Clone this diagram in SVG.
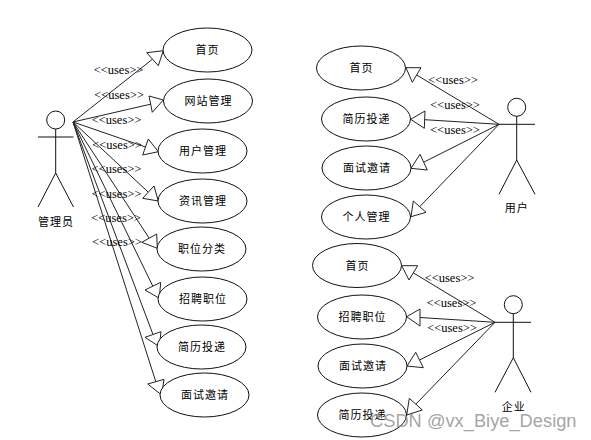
<svg xmlns="http://www.w3.org/2000/svg" width="591" height="440" viewBox="0 0 591 440">
<style>
  .s { fill: none; stroke: #111; stroke-width: 1; }
  ellipse { fill: #fff; stroke: #111; stroke-width: 1; }
  polygon { fill: #fff; stroke: #222; stroke-width: 1; }
  #connectors line { stroke: #222; stroke-width: 1; }
  text { fill: #000; }
  .n { font-family: "Noto Sans CJK SC", "Noto Sans", sans-serif; font-size: 11px; letter-spacing: 1px; text-anchor: middle; }
  .u { font-family: "Liberation Serif", serif; font-size: 12.500px; text-anchor: middle; }
  .w { font-family: "Liberation Sans", sans-serif; font-size: 18.300px; fill: #8c8c8c; fill-opacity: .8; }
</style>
<rect width="591" height="440" fill="#fff"/>

<g id="connectors">
  <line x1="73" y1="122" x2="152.5" y2="59.2"/><polygon points="163.3,50.7 146.7,52.7 158.3,65.7"/>
  <line x1="73" y1="122" x2="150.6" y2="104.2"/><polygon points="163.3,100 149,96 152.3,112.3"/>
  <line x1="73" y1="122" x2="145.5" y2="147"/><polygon points="158.3,151.7 148.3,139 142.7,155"/>
  <line x1="73" y1="122" x2="148.3" y2="192.2"/><polygon points="158.3,201 154,186 142.7,198.3"/>
  <line x1="73" y1="122" x2="149.2" y2="238.2"/><polygon points="157.3,248.3 156.7,234 141.7,242.3"/>
  <line x1="73" y1="122" x2="152.8" y2="286.2"/><polygon points="159.3,298.3 160.7,282.3 145,290"/>
  <line x1="73" y1="122" x2="153" y2="334.5"/><polygon points="159.3,346.7 161,331.7 145,337.3"/>
  <line x1="73" y1="122" x2="155.8" y2="381.7"/><polygon points="161.7,395 164,379.3 147.7,384"/>

  <line x1="499" y1="124.3" x2="416.7" y2="75"/><polygon points="406,67.7 421,67.7 412.3,82.3"/>
  <line x1="499" y1="124.3" x2="424.7" y2="119.7"/><polygon points="410.7,119.3 425,111 424.3,128.3"/>
  <line x1="499" y1="124.3" x2="423.7" y2="162.2"/><polygon points="411,168.3 420,154.3 427.3,170"/>
  <line x1="499" y1="124.3" x2="419.7" y2="206.7"/><polygon points="411,216.7 426,212.3 413.3,201"/>

  <line x1="495" y1="322.3" x2="413.4" y2="272.9"/><polygon points="401.7,265.7 417.7,265.7 409,280"/>
  <line x1="495" y1="322.3" x2="420" y2="317.5"/><polygon points="406.7,316.7 420,309 420,326"/>
  <line x1="495" y1="322.3" x2="419.5" y2="360"/><polygon points="407,366 415.7,352.3 423.3,367.7"/>
  <line x1="495" y1="322.3" x2="415.8" y2="404.2"/><polygon points="406.7,415 409.3,398.3 422.3,410"/>

  <text class="u" x="118.500" y="74">&lt;&lt;uses&gt;&gt;</text>
  <text class="u" x="119" y="99">&lt;&lt;uses&gt;&gt;</text>
  <text class="u" x="116.500" y="124">&lt;&lt;uses&gt;&gt;</text>
  <text class="u" x="117" y="149">&lt;&lt;uses&gt;&gt;</text>
  <text class="u" x="116.500" y="173">&lt;&lt;uses&gt;&gt;</text>
  <text class="u" x="116.500" y="198">&lt;&lt;uses&gt;&gt;</text>
  <text class="u" x="116" y="222">&lt;&lt;uses&gt;&gt;</text>
  <text class="u" x="117" y="246">&lt;&lt;uses&gt;&gt;</text>

  <text class="u" x="453" y="84">&lt;&lt;uses&gt;&gt;</text>
  <text class="u" x="455" y="109">&lt;&lt;uses&gt;&gt;</text>
  <text class="u" x="455" y="134">&lt;&lt;uses&gt;&gt;</text>

  <text class="u" x="449.500" y="282">&lt;&lt;uses&gt;&gt;</text>
  <text class="u" x="451.500" y="307">&lt;&lt;uses&gt;&gt;</text>
  <text class="u" x="452" y="332">&lt;&lt;uses&gt;&gt;</text>
</g>

<g id="admin">
  <circle class="s" cx="55.7" cy="120" r="9"/>
  <path class="s" d="M55.7 129V173M38 137H73.5M38 207L55.7 173L73.5 207"/>
  <text class="n" x="56" y="226">管理员</text>
</g>
<g id="a-home"><ellipse cx="207.5" cy="50" rx="44.5" ry="22"/><text class="n" x="207.5" y="54">首页</text></g>
<g id="a-site"><ellipse cx="208" cy="101" rx="44.5" ry="22"/><text class="n" x="208.500" y="105">网站管理</text></g>
<g id="a-user"><ellipse cx="202.500" cy="151" rx="44.5" ry="22"/><text class="n" x="203" y="155">用户管理</text></g>
<g id="a-news"><ellipse cx="202.500" cy="201" rx="44.5" ry="22"/><text class="n" x="203" y="205">资讯管理</text></g>
<g id="a-cat"><ellipse cx="201.500" cy="249" rx="44.5" ry="22"/><text class="n" x="202" y="253">职位分类</text></g>
<g id="a-job"><ellipse cx="202.500" cy="299" rx="44.5" ry="22"/><text class="n" x="203" y="303">招聘职位</text></g>
<g id="a-cv"><ellipse cx="201.500" cy="347" rx="44.5" ry="22"/><text class="n" x="202" y="351">简历投递</text></g>
<g id="a-invite"><ellipse cx="204.500" cy="395" rx="44.5" ry="22"/><text class="n" x="205" y="399">面试邀请</text></g>

<g id="user">
  <circle class="s" cx="516.7" cy="107.300" r="9"/>
  <path class="s" d="M516.7 116.300V160M499 124.300H535M499 194.300L516.700 160L535 194.300"/>
  <text class="n" x="516.700" y="212">用户</text>
</g>
<g id="u-home"><ellipse cx="361" cy="68" rx="44.5" ry="22"/><text class="n" x="361.500" y="72">首页</text></g>
<g id="u-cv"><ellipse cx="366" cy="119" rx="44.5" ry="22"/><text class="n" x="366.500" y="123">简历投递</text></g>
<g id="u-invite"><ellipse cx="366.500" cy="168" rx="44.5" ry="22"/><text class="n" x="367" y="172">面试邀请</text></g>
<g id="u-me"><ellipse cx="366" cy="217" rx="44.5" ry="22"/><text class="n" x="366.500" y="221">个人管理</text></g>

<g id="company">
  <circle class="s" cx="513.300" cy="304.700" r="9"/>
  <path class="s" d="M513.300 313.700V357.700M495 322.300H531M495 392.300L513.300 357.700L531 392.300"/>
  <text class="n" x="513.700" y="410.500">企业</text>
</g>
<g id="c-home"><ellipse cx="357" cy="265.500" rx="44.5" ry="22"/><text class="n" x="357.500" y="269.500">首页</text></g>
<g id="c-job"><ellipse cx="362" cy="317" rx="44.5" ry="22"/><text class="n" x="362.500" y="321">招聘职位</text></g>
<g id="c-invite"><ellipse cx="362.500" cy="366" rx="44.5" ry="22"/><text class="n" x="363" y="370">面试邀请</text></g>
<g id="c-cv"><ellipse cx="362" cy="415" rx="44.5" ry="22"/><text class="n" x="362.500" y="419">简历投递</text></g>

<text class="w" x="370" y="427">CSDN @vx_Biye_Design</text>
</svg>
